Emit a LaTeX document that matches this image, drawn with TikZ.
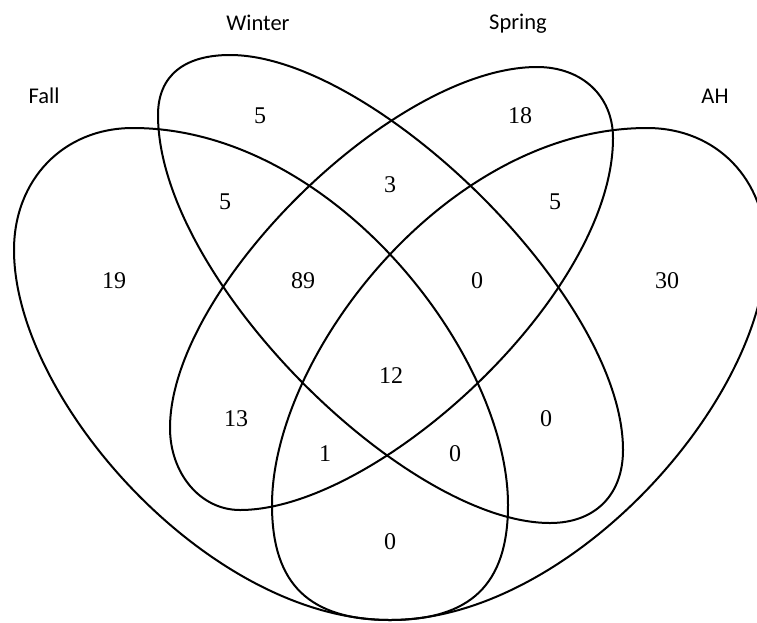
\documentclass[tikz,border=0pt]{standalone}
\usepackage{fontspec}
\setmainfont{Liberation Serif}
\newfontfamily\labelfont{Carlito}
\begin{document}
\begin{tikzpicture}[x=1pt,y=-1pt,
  setline/.style={line width=2pt, line join=round},
  num/.style={font=\fontsize{24}{28}\selectfont, inner sep=0pt, anchor=center},
  lab/.style={font=\labelfont\fontsize{22.5}{26}\selectfont, inner sep=0pt, anchor=base}]
\useasboundingbox (0,0) rectangle (757,622);
\clip (0,0) rectangle (757,622);
% Fall
\draw[setline] (133,128) .. controls (63,128) and (14,180) .. (14,250)
  .. controls (14,400) and (210,620) .. (390,620)
  .. controls (470,620) and (508,585) .. (508,505)
  .. controls (508,355) and (333,128) .. (133,128) -- cycle;
% AH
\draw[setline] (647,128) .. controls (717,128) and (766,180) .. (766,250)
  .. controls (766,400) and (570,620) .. (390,620)
  .. controls (310,620) and (272,585) .. (272,505)
  .. controls (272,355) and (447,128) .. (647,128) -- cycle;
% Winter
\draw[setline] (230,55) .. controls (185,55) and (158,75) .. (158,115)
  .. controls (158,278) and (406,523) .. (550,523)
  .. controls (595,523) and (623,495) .. (623,450)
  .. controls (623,297) and (373,55) .. (230,55) -- cycle;
% Spring
\draw[setline] (537,67) .. controls (582,67) and (613,96) .. (613,138)
  .. controls (613,295) and (377,510) .. (240,510)
  .. controls (200,510) and (170,473) .. (170,428)
  .. controls (170,288) and (394,67) .. (537,67) -- cycle;
% set labels
\node[lab] (lfall) at (44,103) {Fall};
\node[lab] (lwinter) at (258,30) {Winter};
\node[lab] (lspring) at (518,29) {Spring};
\node[lab] (lah) at (715,103) {AH};
% counts
\node[num] (w) at (260,116) {5};
\node[num] (s) at (520,116) {18};
\node[num] (fw) at (225,202) {5};
\node[num] (ws) at (390,185) {3};
\node[num] (sa) at (555,202) {5};
\node[num] (f) at (114,281) {19};
\node[num] (fws) at (303,281) {89};
\node[num] (wsa) at (477,281) {0};
\node[num] (a) at (667,281) {30};
\node[num] (all) at (391,376) {12};
\node[num] (fs) at (236,419) {13};
\node[num] (wa) at (546,419) {0};
\node[num] (fsa) at (325,454) {1};
\node[num] (fwa) at (455,454) {0};
\node[num] (fa) at (390,542) {0};
\end{tikzpicture}
\end{document}
